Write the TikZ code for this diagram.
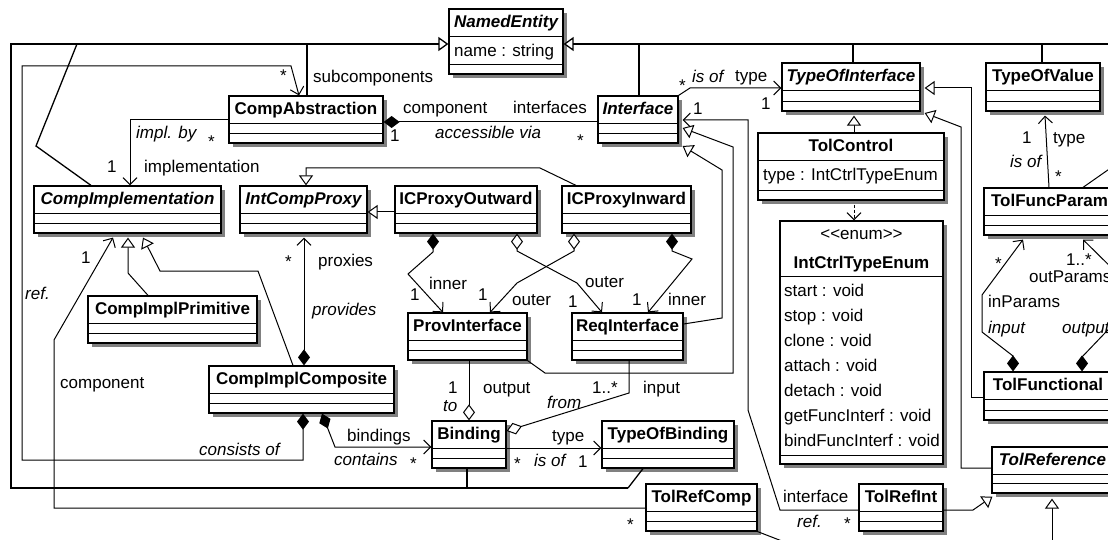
\documentclass[tikz,border=0pt]{standalone}
\usepackage{fontspec}
\setmainfont{Liberation Sans}
\usetikzlibrary{arrows.meta,calc,shadows}
\definecolor{shgray}{RGB}{128,128,128}
\tikzset{
 every node/.style={font=\fontsize{17}{20}\selectfont},
 classbox/.style={draw, line width=1.2pt, fill=white, inner sep=0pt,
   drop shadow={shadow xshift=4pt, shadow yshift=-4pt, fill=shgray, opacity=1}},
 seprule/.style={line width=1pt},
 titletext/.style={anchor=base, inner sep=0pt, font=\fontsize{17}{20}\selectfont\bfseries},
 abstract/.style={font=\fontsize{17}{20}\selectfont\bfseries\itshape},
 lbl/.style={anchor=base west, inner sep=0pt},
 lbli/.style={anchor=base west, inner sep=0pt, font=\fontsize{17}{20}\selectfont\itshape},
 conn/.style={line width=1pt, line join=miter},
 frame/.style={line width=1.3pt, line join=miter},
 genhead/.style={-{Triangle[length=10pt,width=14pt,fill=white]}},
 gen/.style={conn, -{Triangle[length=10pt,width=14pt,fill=white]}},
 nav/.style={conn, -{Straight Barb[length=7pt,width=14pt]}},
 comp/.style={conn, {Diamond[length=16pt,width=12pt]}-{Straight Barb[length=7pt,width=14pt]}},
 compplain/.style={conn, {Diamond[length=16pt,width=12pt]}-},
 aggr/.style={conn, {Diamond[length=16pt,width=12pt,fill=white]}-{Straight Barb[length=7pt,width=14pt]}},
 aggrplain/.style={conn, {Diamond[length=16pt,width=12pt,fill=white]}-},
 depend/.style={conn, dashed, dash pattern=on 3pt off 2pt, -{Straight Barb[length=7pt,width=14pt]}},
}
% #1 title style, #2 name, #3 x1, #4 y1, #5 x2, #6 y2, #7 title
\newcommand\umlclass[7][]{%
  \node[classbox, minimum width={(#5-#3)*1pt}, minimum height={(#6-#4)*1pt}] (#2) at ({(#3+#5)/2},{(#4+#6)/2}) {};
  \draw[seprule] ($(#2.north west)+(0,28)$) -- ($(#2.north east)+(0,28)$);
  \draw[seprule] ($(#2.south west)+(0,-10)$) -- ($(#2.south east)+(0,-10)$);
  \node[titletext,#1] at ($(#2.north)+(0,19)$) {#7};
}
\begin{document}
\begin{tikzpicture}[x=1pt,y=-1pt]
\useasboundingbox (0,0) rectangle (1108,540);
\fill[white] (0,0) rectangle (1108,540);
\clip (0,0) rectangle (1108,540);

% ---------- classes ----------
\umlclass[abstract]{NE}{449}{9}{563}{74}{NamedEntity}
\node[lbl] at (454,57) {name : string};
\umlclass{CA}{229}{96}{383}{143}{CompAbstraction}
\umlclass[abstract]{IF}{598}{96}{678}{143}{Interface}
\umlclass[abstract]{TOI}{782}{63}{920}{111}{TypeOfInterface}
\umlclass{TOV}{986}{63}{1100}{111}{TypeOfValue}
\umlclass{TC}{758}{133}{944}{200}{TolControl}
\node[lbl] at (763,181) {type : IntCtrlTypeEnum};
\umlclass[abstract]{CI}{34}{186}{221}{233}{CompImplementation}
\umlclass[abstract]{ICP}{240}{186}{367}{233}{IntCompProxy}
\umlclass{OUT}{395}{186}{537}{233}{ICProxyOutward}
\umlclass{IN}{562}{186}{691}{233}{ICProxyInward}
\umlclass{CIP}{88}{296}{257}{343}{CompImplPrimitive}
\umlclass{PI}{408}{313}{527}{360}{ProvInterface}
\umlclass{RI}{572}{313}{683}{360}{ReqInterface}
\umlclass{CIC}{209}{366}{394}{413}{CompImplComposite}
\umlclass{BI}{432}{421}{506}{468}{Binding}
\umlclass{TOB}{602}{421}{734}{468}{TypeOfBinding}
\umlclass{TRC}{646}{484}{757}{531}{TolRefComp}
\umlclass{TRI}{859}{484}{943}{531}{TolRefInt}
\umlclass[abstract]{TR}{992}{447}{1113}{493}{TolReference}
\umlclass{TF}{984}{372}{1112}{420}{TolFunctional}
\umlclass{TFP}{984}{188}{1115}{235}{TolFuncParam}

% enumeration
\node[classbox, minimum width=163pt, minimum height=243pt] (ENUM) at (861.5,342.5) {};
\draw[seprule] ($(ENUM.north west)+(0,56)$) -- ($(ENUM.north east)+(0,56)$);
\draw[seprule] ($(ENUM.south west)+(0,-9)$) -- ($(ENUM.south east)+(0,-9)$);
\node[anchor=base, inner sep=0pt] at (861.5,239) {<{}<enum>{}>};
\node[titletext] at (861.5,268) {IntCtrlTypeEnum};
\node[lbl] at (784,296) {start : void};
\node[lbl] at (784,321) {stop : void};
\node[lbl] at (784,346) {clone : void};
\node[lbl] at (784,371) {attach : void};
\node[lbl] at (784,396) {detach : void};
\node[lbl] at (784,421) {getFuncInterf : void};
\node[lbl] at (784,446) {bindFuncInterf : void};

% ---------- generalizations to NamedEntity ----------
\draw[frame] (91,0 |- CI.north) -- (36,146) -- (77,44);
\draw[frame] (307,0 |- CA.north) -- (307,44);
\draw[frame] (467,0 |- BI.south) -- (467,488);
\draw[frame] (643,0 |- TOB.south) -- (628,488);
\draw[frame,genhead] (628,488) -- (11,488) -- (11,44) -- (NE.west |- 0,44);
\draw[frame,genhead] (1125,44) -- (NE.east |- 0,44);
\draw[frame] (639,0 |- IF.north) -- (639,44);
\draw[frame] (853,0 |- TOI.north) -- (853,44);
\draw[frame] (1042,0 |- TOV.north) -- (1042,44);

% ---------- associations ----------
% subcomponents
\draw[comp] (303,0 |- CIC.south) -- (303,460) -- (22,460) -- (22,66) -- (291,66) -- (299,0 |- CA.north);
\node[lbl] at (313,83) {subcomponents};
\node[lbl] at (280,82) {*};
\node[lbli] at (199,455) {consists of};
% implementation
\draw[nav] (CA.west |- 0,120) -- (130,120) -- (130,0 |- CI.north);
\node[lbli] at (136,139) {impl. by};
\node[lbl] at (208,148) {*};
\node[lbl] at (107,173) {1};
\node[lbl] at (144,173) {implementation};
% component / interfaces
\draw[compplain] (CA.east |- 0,122) -- (IF.west |- 0,122);
\node[lbl] at (403,114) {component};
\node[lbl] at (513,114) {interfaces};
\node[lbl] at (390,142) {1};
\node[lbli] at (435,139) {accessible via};
\node[lbl] at (577,147) {*};
% Interface -> TypeOfInterface
\draw[nav] (IF.north east) -- (690,88) -- (TOI.west |- 0,88);
\node[lbl] at (679,92) {*};
\node[lbli] at (692,83) {is of};
\node[lbl] at (735,82) {type};
\node[lbl] at (761,110) {1};

% proxies generalizations
\draw[gen] (OUT.west |- 0,212) -- (ICP.east |- 0,212);
\draw[gen] (576,0 |- IN.north) -- (540,168) -- (306,168) -- (306,0 |- ICP.north);
% interface generalizations
\draw[gen] (PI.south east) -- (545,373) -- (733,373) -- (733,147) -- ($(IF.east |- 0,128)+(4,0)$);
\draw[gen] (RI.east |- 0,324) -- (722,318) -- (722,170) -- ($(IF.east |- 0,146)+(4,0)$);
% TolRefInt -> Interface
\draw[nav] (TRI.west |- 0,510) -- (780,510) -- (748,410) -- (748,120) -- ($(IF.east |- 0,120)+(4,0)$);
\node[lbl] at (693,115) {1};
\node[lbl] at (783,502) {interface};
\node[lbli] at (797,527) {ref.};
\node[lbl] at (844,529) {*};

% ICProxy inner/outer
\draw[comp] (433,0 |- OUT.south) -- (433,252) -- (408,274) -- (443,0 |- PI.north);
\draw[aggr] (517,0 |- OUT.south) -- (517,251) -- (577,283) -- (602,0 |- RI.north);
\draw[aggr] (574,0 |- IN.south) -- (574,251) -- (517,283) -- (490,0 |- PI.north);
\draw[comp] (672,0 |- IN.south) -- (672,251) -- (692,259) -- (648,0 |- RI.north);
\node[lbl] at (429,289) {inner};
\node[lbl] at (410,300) {1};
\node[lbl] at (478,300) {1};
\node[lbl] at (512,305) {outer};
\node[lbl] at (585,287) {outer};
\node[lbl] at (568,307) {1};
\node[lbl] at (632,305) {1};
\node[lbl] at (668,305) {inner};

% proxies
\draw[comp] (304,0 |- CIC.north) -- ($(304,0 |- ICP.south)+(0,4)$);
\node[lbl] at (285,267) {*};
\node[lbl] at (318,266) {proxies};
\node[lbli] at (312,315) {provides};

% CompImplementation generalizations
\draw[gen] (293,0 |- CIC.north) -- (258,271) -- (160,271) -- ($(143,0 |- CI.south)+(0,4)$);
\draw[gen] (148,0 |- CIP.north) -- (128,273) -- ($(128,0 |- CI.south)+(0,4)$);

% TolRefComp -> CompImplementation
\draw[nav] (TRC.west |- 0,508) -- (54,508) -- (54,340) -- ($(113,0 |- CI.south)+(0,4)$);
\node[lbl] at (81,263) {1};
\node[lbli] at (25,299) {ref.};
\node[lbl] at (60,388) {component};
\node[lbl] at (627,530) {*};

% bindings
\draw[comp] (322,0 |- CIC.south) -- (335,447) -- (BI.west |- 0,447);
\node[lbl] at (347,441) {bindings};
\node[lbli] at (334,465) {contains};
\node[lbl] at (410,469) {*};

% Binding -> TypeOfBinding
\draw[nav] (BI.east |- 0,448) -- (TOB.west |- 0,448);
\node[lbl] at (552,441) {type};
\node[lbl] at (514,469) {*};
\node[lbli] at (534,466) {is of};
\node[lbl] at (578,467) {1};

% output / input
\draw[aggrplain] (469,0 |- BI.north) -- (469,0 |- PI.south);
\draw[aggrplain] (BI.east |- 0,431) -- (629,393) -- (629,0 |- RI.south);
\node[lbl] at (448,393) {1};
\node[lbli] at (443,411) {to};
\node[lbl] at (483,393) {output};
\node[lbl] at (592,393) {1..*};
\node[lbl] at (643,393) {input};
\node[lbli] at (547,408) {from};

% TypeOfInterface generalizations
\draw[gen] (854,0 |- TC.north) -- ($(854,0 |- TOI.south)+(0,4)$);
\draw[depend] ($(854,0 |- TC.south)+(0,4)$) -- (854,0 |- ENUM.north);
\draw[gen] (TF.west |- 0,397) -- (971,397) -- (971,88) -- ($(TOI.east |- 0,88)+(4,0)$);
\draw[gen] (TR.west |- 0,468) -- (961,468) -- (961,127) -- ($(TOI.east |- 0,113)+(4,0)$);

% TolFuncParam -> TypeOfValue
\draw[nav] (1049,0 |- TFP.north) -- ($(1045,0 |- TOV.south)+(0,4)$);
\draw[conn] (1083,0 |- TFP.north) -- (1125,158);
\node[lbl] at (1022,144) {1};
\node[lbl] at (1053,144) {type};
\node[lbli] at (1010,168) {is of};
\node[lbl] at (1055,183) {*};

% inParams / outParams
\draw[comp] (1013,0 |- TF.north) -- (1013,356) -- (982,332) -- (982,295) -- ($(1023,0 |- TFP.south)+(0,4)$);
\draw[comp] (1082,0 |- TF.north) -- (1082,357) -- (1125,312) -- (1125,281) -- ($(1083,0 |- TFP.south)+(0,4)$);
\node[lbl] at (995,269) {*};
\node[lbl] at (1066,265) {1..*};
\node[lbl] at (1029,282) {outParams};
\node[lbl] at (988,307) {inParams};
\node[lbli] at (988,333) {input};
\node[lbli] at (1062,333) {output};

% TolReference generalizations
\draw[gen] (TRI.east |- 0,510) -- (973,510) -- ($(TR.south west)+(1,3)$);
\draw[conn] (TRC.south east) -- (800,548);
\draw[gen] (1052,560) -- ($(1052,0 |- TR.south)+(0,5)$);
\end{tikzpicture}
\end{document}
